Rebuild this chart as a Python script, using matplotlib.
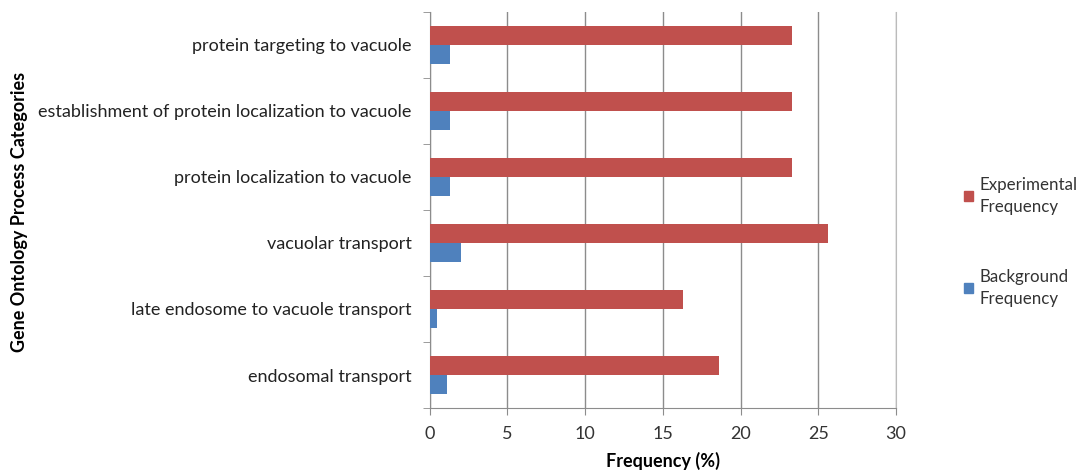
import numpy as np
import matplotlib.pyplot as plt
from matplotlib.patches import Patch

plt.rcParams['font.family'] = ['Lato', 'DejaVu Sans']

# ---------------- DATA ---------------- #
categories = [
    "endosomal transport",
    "late endosome to vacuole transport",
    "vacuolar transport",
    "protein localization to vacuole",
    "establishment of protein localization to vacuole",
    "protein targeting to vacuole",
]
experimental = [18.6, 16.3, 25.6, 23.3, 23.3, 23.3]
background = [1.1, 0.45, 2.0, 1.3, 1.3, 1.3]
x_ticks = [0, 5, 10, 15, 20, 25, 30]

RED = "#C0504D"
BLUE = "#4F81BD"
GRID = "#8C8C8C"
FS = 13

# ---------------- PLOT ---------------- #
fig = plt.figure(figsize=(10.88, 4.75), dpi=100)
ax = fig.add_axes([0.395, 0.141, 0.4285, 0.834])

y = np.arange(len(categories))
h = 0.285
ax.barh(y + h / 2, experimental, height=h, color=RED, zorder=3)
ax.barh(y - h / 2, background, height=h, color=BLUE, zorder=3)

ax.set_xlim(0, 30)
ax.set_ylim(-0.5, len(categories) - 0.5)
ax.set_xticks(x_ticks)
ax.set_xticklabels([str(t) for t in x_ticks], fontsize=FS, color="#333333")

# category labels centered, tick marks at category boundaries
ax.set_yticks(y)
ax.set_yticklabels(categories, fontsize=FS, color="#222222")
ax.tick_params(axis="y", length=0, pad=13)
ax.set_yticks(np.arange(-0.5, len(categories), 1), minor=True)
ax.tick_params(axis="y", which="minor", length=5, color=GRID)
ax.tick_params(axis="x", length=5, color=GRID, pad=8)

ax.xaxis.grid(True, color=GRID, linewidth=1, zorder=0)
ax.set_axisbelow(True)
ax.spines["top"].set_visible(False)
ax.spines["right"].set_color("#BBBBBB")
for side in ["left", "bottom"]:
    ax.spines[side].set_color(GRID)

ax.set_xlabel("Frequency (%)", fontsize=FS, fontweight="bold", labelpad=7)
fig.text(0.0175, 0.554, "Gene Ontology Process Categories", rotation=90,
         fontsize=FS, fontweight="bold", ha="center", va="center")

handles = [Patch(color=RED), Patch(color=BLUE)]
leg = fig.legend(handles, ["Experimental\nFrequency", "Background\nFrequency"],
                 loc="upper left", bbox_to_anchor=(0.872, 0.66), frameon=False,
                 fontsize=12.2, handlelength=0.55, handleheight=0.55,
                 handletextpad=0.35, labelspacing=3.2, labelcolor="#333333")
for txt in leg.get_texts():
    txt.set_linespacing(1.45)

fig.savefig("out.png", dpi=100)
